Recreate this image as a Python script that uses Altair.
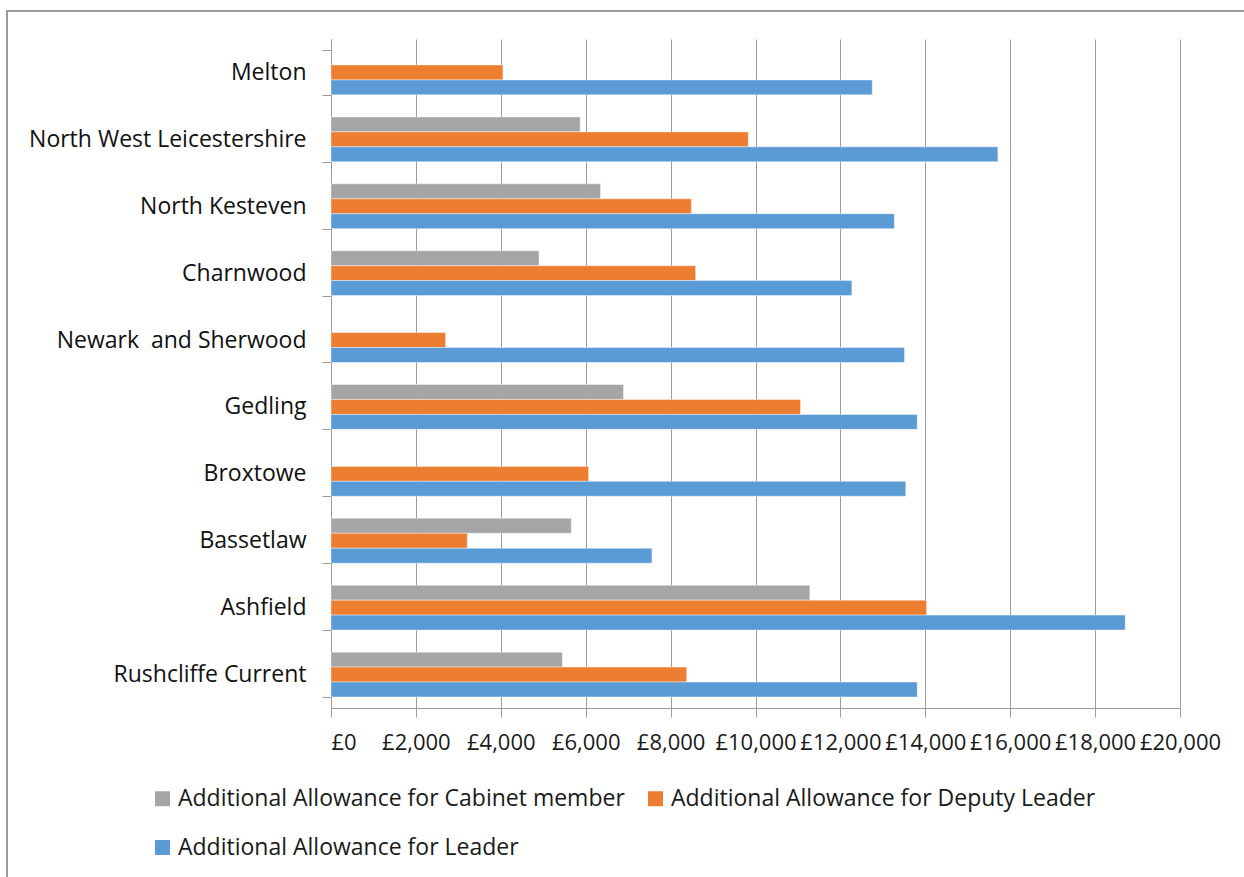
import altair as alt
import pandas as pd

councils = ["Melton", "North West Leicestershire", "North Kesteven", "Charnwood",
            "Newark  and Sherwood", "Gedling", "Broxtowe", "Bassetlaw", "Ashfield",
            "Rushcliffe Current"]
series = ["Additional Allowance for Cabinet member",
          "Additional Allowance for Deputy Leader",
          "Additional Allowance for Leader"]
cabinet = [None, 5870, 6350, 4900, None, 6890, None, 5660, 11280, 5450]
deputy = [4050, 9830, 8490, 8590, 2700, 11060, 6070, 3210, 14030, 8380]
leader = [12750, 15710, 13270, 12270, 13510, 13810, 13540, 7560, 18710, 13810]
colors = ["#A5A5A5", "#ED7D31", "#5B9BD5"]
x_ticks = list(range(0, 20001, 2000))

rows = []
for name, vals in zip(series, [cabinet, deputy, leader]):
    for c, v in zip(councils, vals):
        if v is not None:
            rows.append({"council": c, "series": name, "value": v})
df = pd.DataFrame(rows)

font = "Open Sans"

bars = alt.Chart(df).mark_bar(stroke="white", strokeWidth=0.6, strokeOpacity=0.7).encode(
    x=alt.X("value:Q",
            scale=alt.Scale(domain=[0, 20000], nice=False),
            axis=alt.Axis(values=x_ticks, labelExpr="'£' + format(datum.value, ',')",
                          title=None, grid=True, gridColor="#9c9c9c", gridWidth=1,
                          domainColor="#9c9c9c", tickColor="#9c9c9c", tickSize=9,
                          labelFont=font, labelFontSize=22, labelColor="#1a1a1a",
                          labelPadding=15, labelOverlap=False, labelFlush=False,
                          labelAlign={"expr": "datum.value == 0 ? 'left' : 'center'"})),
    y=alt.Y("council:N", sort=councils,
            scale=alt.Scale(paddingInner=0.33, paddingOuter=0.165),
            axis=alt.Axis(title=None, tickBand="extent", tickSize=9, tickColor="#9c9c9c",
                          domainColor="#9c9c9c", labelFont=font, labelFontSize=23,
                          labelColor="#111111", labelPadding=16, labelLimit=500,
                          labelExpr="replace(datum.label, '  ', ' \u00a0')")),
    yOffset=alt.YOffset("series:N", sort=series,
                        scale=alt.Scale(paddingInner=0, paddingOuter=0)),
    color=alt.Color("series:N", sort=series,
                    scale=alt.Scale(domain=series, range=colors),
                    legend=alt.Legend(title=None, orient="none", direction="horizontal",
                                      legendX=-180, legendY=748,
                                      columns=2, columnPadding=19, rowPadding=25,
                                      symbolType="square",
                                      symbolSize=225, symbolStrokeWidth=0,
                                      labelFont=font, labelFontSize=23,
                                      labelColor="#1a1a1a", labelOffset=4,
                                      labelLimit=600)),
)

frame = alt.Chart(pd.DataFrame({"a": [0]})).mark_rect(
    fill=None, stroke="#9a9a9a", strokeWidth=2).encode(
    x=alt.value(-324), x2=alt.value(1000), y=alt.value(-28), y2=alt.value(900))

chart = alt.layer(frame, bars).properties(
    width=849, height=669,
    autosize=alt.AutoSizeParams(type="none"),
    padding={"left": 331, "top": 39, "right": 64, "bottom": 169},
    background="white",
).configure_view(stroke=None)

chart.save("out.html", embed_options={"renderer": "svg", "actions": False})
